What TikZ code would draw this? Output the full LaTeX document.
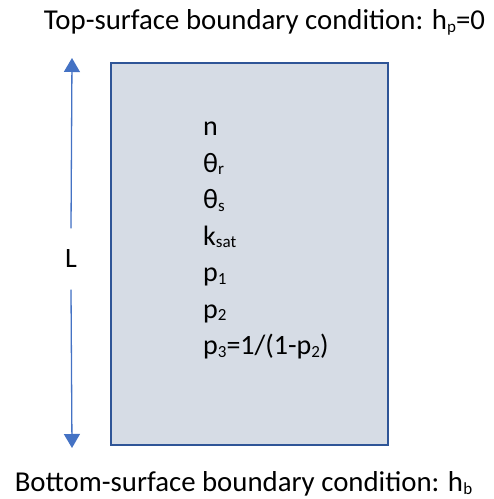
\documentclass[tikz,border=0pt]{standalone}
\usepackage{fontspec}
\setmainfont{Carlito}
\usepackage{tikz}
\usetikzlibrary{arrows.meta, positioning}
\definecolor{boxfill}{HTML}{D6DCE5}
\definecolor{boxline}{HTML}{2F5597}
\definecolor{dimblue}{HTML}{4472C4}
\newcommand{\lowidx}[1]{\raisebox{-0.09em}{\fontsize{17}{17}\selectfont #1}}

\begin{document}
\begin{tikzpicture}[
    x=1pt, y=1pt,
    soil/.style={draw=boxline, line width=2pt, fill=boxfill, minimum width=277pt, minimum height=382pt},
    params/.style={font=\fontsize{28}{36.5}\selectfont, align=left, anchor=north west, inner sep=0pt},
    bctext/.style={font=\fontsize{28.8}{32}\selectfont, anchor=base, inner sep=0pt},
    dim/.style={-{Triangle[length=14pt, width=16pt]}, draw=dimblue, fill=dimblue, line width=1.3pt},
]
\useasboundingbox (0,0) rectangle (494,499);

\node[soil] (column) at (249.5,245) {};
\node[params] (props) at (203,377) {n\\
  θ\lowidx{r}\\
  θ\lowidx{s}\\
  k\lowidx{sat}\\
  p\lowidx{1}\\
  p\lowidx{2}\\
  p\lowidx{3}=1/(1-p\lowidx{2})};

% Boundary conditions
\node[bctext] (topbc) at (264.5,469) {Top-surface boundary condition: h\lowidx{p}=0};
\node[bctext] (botbc) at (243.5,7) {Bottom-surface boundary condition: h\lowidx{b}};

% Column length
\node[font=\fontsize{28}{32}\selectfont, minimum height=61pt, inner sep=0pt] (len) at (71,240) {L};
\coordinate (lentop) at (72,441);
\coordinate (lenbot) at (72,51);
\draw[dim] (len.north) -- (lentop);
\draw[dim] (len.south) -- (lenbot);

\end{tikzpicture}
\end{document}
